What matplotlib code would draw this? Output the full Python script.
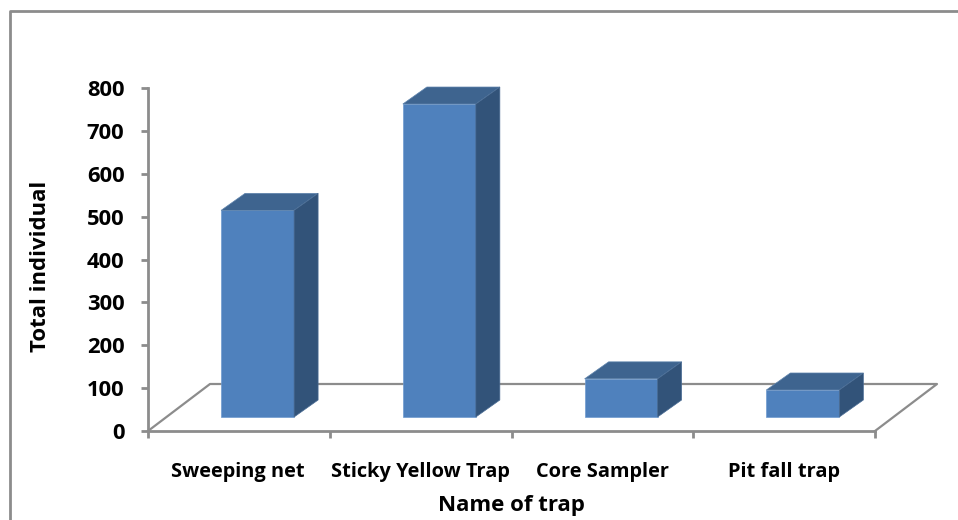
# -*- coding: utf-8 -*-
# Import libraries
import matplotlib
matplotlib.use('Agg')
import matplotlib.pyplot as plt
from matplotlib.lines import Line2D
from matplotlib.patches import Polygon

traps = ['Sweeping net', 'Sticky Yellow Trap', 'Core Sampler', 'Pit fall trap']
totals = [482, 730, 89, 63]
yticks = [0, 100, 200, 300, 400, 500, 600, 700, 800]

W, H = 958, 520
gray = '#8c8c8c'
plt.rcParams['font.family'] = ['Open Sans', 'DejaVu Sans']

fig = plt.figure(figsize=(W / 100, H / 100), dpi=100)
ax = fig.add_axes([148 / W, 1 - 431 / H, 727 / W, 343 / H])
ax.set_xlim(0, 4)
ax.set_ylim(0, 800)

# outer frame, only top and left are in the picture
fig.add_artist(Line2D([10 / W, 10 / W, 1], [0, 1 - 11 / H, 1 - 11 / H], color=gray, lw=2))

for s in ['top', 'right']:
    ax.spines[s].set_visible(False)
for s in ['left', 'bottom']:
    ax.spines[s].set_color(gray)
    ax.spines[s].set_linewidth(2)

ax.set_yticks(yticks)
ax.set_xticks(range(5))
ax.set_xticklabels([])
ax.tick_params(axis='both', length=5, width=2, color=gray)
ax.tick_params(axis='y', labelsize=15.8, pad=12)
for t in ax.get_yticklabels():
    t.set_fontweight('bold')

# floor of the 3d box
floor_dx = 62 / 181.75
floor_dy = 47 / 0.42875
ax.plot([0, floor_dx, 4 + floor_dx, 4], [0, floor_dy, floor_dy, 0], color=gray, lw=1.6,
        clip_on=False, zorder=1)

# bars
bar_w = 73 / 181.75
dx = 24 / 181.75
dy = 17 / 0.42875
base = 14 / 0.42875
for i, v in enumerate(totals):
    x0 = i + 0.603 - bar_w / 2
    x1 = x0 + bar_w
    top = base + v
    ax.add_patch(Polygon([(x0, base), (x1, base), (x1, top), (x0, top)], fc='#4f81bd',
                         ec='#6f9bd0', lw=0.5, zorder=3, clip_on=False))
    ax.add_patch(Polygon([(x0, top), (x1, top), (x1 + dx, top + dy), (x0 + dx, top + dy)],
                         fc='#3e648f', ec='#5f84ad', lw=0.5, zorder=3, clip_on=False))
    ax.add_patch(Polygon([(x1, base), (x1 + dx, base + dy), (x1 + dx, top + dy), (x1, top)],
                         fc='#325379', ec='#4a6c94', lw=0.5, zorder=3, clip_on=False))

# category labels sit a bit off the ticks
label_px = [238, 420, 602, 784]
for name, px in zip(traps, label_px):
    ax.text((px - 148) / 181.75, -41 / 0.42875, name, ha='center', va='center',
            fontsize=14.4, fontweight='bold', clip_on=False)

fig.text(511 / W, 1 - 506 / H, 'Name of trap', ha='center', va='center', fontsize=16, fontweight='bold')
fig.text(41 / W, 1 - 266 / H, 'Total individual', ha='center', va='center', rotation=90,
         fontsize=15.9, fontweight='bold')

fig.savefig('out.png', dpi=100)
